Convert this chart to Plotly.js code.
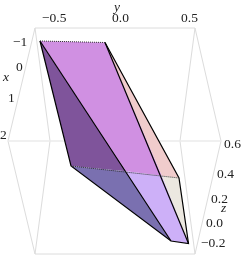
<!DOCTYPE html>
<html><head><meta charset="utf-8">
<script src="https://cdn.plot.ly/plotly-3.0.1.min.js"></script>
<style>html,body{margin:0;padding:0;background:#fff}#c{width:241px;height:255px}#c .main-svg{will-change:transform}</style>
</head><body><div id="c"></div>
<script>
// Projected box and solid vertices
var frameX = [35,195,221,195,35,8,35];
var frameY = [28,28,141,254,254,141,28];
var innerLX = [35,50,35], innerLY = [28,141,254];
var innerRX = [195,180,195], innerRY = [28,141,254];
var midX = [8,221], midY = [141,141];

var darkTopX = [40,71,126,40], darkTopY = [41,166,171.3,41];
var darkLowX = [71,126,171,71], darkLowY = [166,171.3,241,166];
var frontTopX = [40,105,161.7,126,40], frontTopY = [41,42.5,175.7,171.3,41];
var frontLowX = [126,161.7,188.5,171,126], frontLowY = [171.3,175.7,243.5,241,171.3];
var pinkTopX = [105,179,161.7,105], pinkTopY = [42.5,178,175.7,42.5];
var pinkLowX = [161.7,179,188.5,161.7], pinkLowY = [175.7,178,243.5,175.7];

var darkTopColor='#7f549b', darkLowColor='#7a70b0', frontTopColor='#d090e2', frontLowColor='#cdb0f8', pinkTopColor='#f0cccc', pinkLowColor='#ece8e0';

var edges = [
  {x:[40,71,171,188.5,179,105],y:[41,166,241,243.5,178,42.5]},
  {x:[40,171],y:[41,241]},
  {x:[105,188.5],y:[42.5,243.5]}
];
var dotted = [{x:[40,105],y:[41,42.5]},{x:[71,179],y:[166,178]}];

var labelText = ['\u22120.5','0.0','0.5','<i>y</i>','\u22121','0','1','2','<i>x</i>','0.6','0.4','0.2','0.0','\u22120.2','<i>z</i>'];
var labelX = [54,120.7,189,116,20,19,11.7,3,5.7,232,225,219,214,213,223];
var labelY = [17,17,17,6,41,66.5,97,134,76,143,173,198,222,242.5,207];

function fillT(x,y,c){return {x:x,y:y,mode:'lines',fill:'toself',fillcolor:c,line:{width:0},hoverinfo:'skip',showlegend:false};}
function lineT(x,y,c,w,d){return {x:x,y:y,mode:'lines',line:{color:c,width:w,dash:d||'solid'},hoverinfo:'skip',showlegend:false};}
var traces=[
 lineT(frameX,frameY,'#dcdcdc',1), lineT(innerLX,innerLY,'#dcdcdc',1), lineT(innerRX,innerRY,'#dcdcdc',1), lineT(midX,midY,'#ebebeb',1.5),
 fillT(darkTopX,darkTopY,darkTopColor), fillT(darkLowX,darkLowY,darkLowColor),
 fillT(pinkTopX,pinkTopY,pinkTopColor), fillT(pinkLowX,pinkLowY,pinkLowColor),
 fillT(frontTopX,frontTopY,frontTopColor), fillT(frontLowX,frontLowY,frontLowColor)
];
edges.forEach(function(e){traces.push(lineT(e.x,e.y,'#000',1.2));});
dotted.forEach(function(e){traces.push(lineT(e.x,e.y,'#333',1,'1px,1px'));});
var layout={
 width:241,height:255,margin:{l:0,r:0,t:0,b:0},paper_bgcolor:'#fff',plot_bgcolor:'#fff',showlegend:false,
 xaxis:{range:[0,241],visible:false,fixedrange:true},
 yaxis:{range:[255,0],visible:false,fixedrange:true},
 annotations:labelText.map(function(t,i){return {x:labelX[i],y:labelY[i],xref:'x',yref:'y',text:t,showarrow:false,xanchor:'center',yanchor:'middle',borderpad:0,font:{family:'Liberation Serif',size:13.5,color:'#222'}};})
};
Plotly.newPlot('c',traces,layout,{staticPlot:true,displayModeBar:false});
</script></body></html>
